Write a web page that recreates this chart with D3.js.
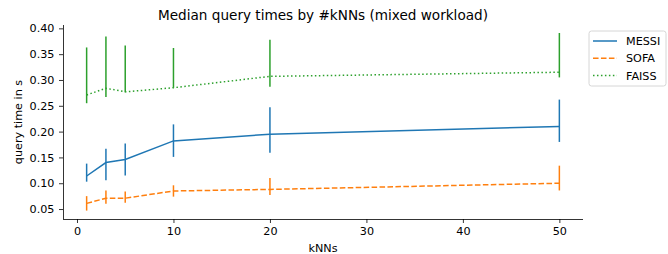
<!DOCTYPE html>
<html lang="en">
<head>
<meta charset="UTF-8">
<title>Median query times</title>
<style>
  body { margin: 0; background: #fff; }
  text { font-family: "DejaVu Sans", sans-serif; fill: #000; }
  .tick text { font-size: 11.2px; }
</style>
</head>
<body>
<div id="chart"></div>
<script src="https://cdn.jsdelivr.net/npm/d3@7"></script>
<script>
let knns = [1, 3, 5, 10, 20, 50]
let seriesNames = ['MESSI', 'SOFA', 'FAISS']
let messi = [0.114, 0.140, 0.146, 0.182, 0.195, 0.210]
let messiLow = [0.103, 0.106, 0.115, 0.151, 0.159, 0.180]
let messiHigh = [0.138, 0.167, 0.177, 0.214, 0.247, 0.262]
let sofa = [0.061, 0.071, 0.071, 0.085, 0.088, 0.100]
let sofaLow = [0.047, 0.060, 0.062, 0.074, 0.077, 0.086]
let sofaHigh = [0.075, 0.086, 0.084, 0.096, 0.110, 0.134]
let faiss = [0.271, 0.284, 0.277, 0.285, 0.307, 0.315]
let faissLow = [0.255, 0.267, 0.276, 0.285, 0.287, 0.305]
let faissHigh = [0.363, 0.384, 0.367, 0.362, 0.378, 0.391]
let xTicks = [0, 10, 20, 30, 40, 50]
let yTicks = [0.05, 0.10, 0.15, 0.20, 0.25, 0.30, 0.35, 0.40]

let width = 668
let height = 254
let padLeft = 63, padRight = 583, padTop = 25, padBottom = 219

let colors = ['#1f77b4', '#ff7f0e', '#2ca02c']
let dashes = [null, '5.55,2.4', '1.5,2.475']
let series = [
  { name: seriesNames[0], mid: messi, lo: messiLow, hi: messiHigh },
  { name: seriesNames[1], mid: sofa, lo: sofaLow, hi: sofaHigh },
  { name: seriesNames[2], mid: faiss, lo: faissLow, hi: faissHigh }
]

let svg = d3.select('#chart').append('svg').attr('width', width).attr('height', height)

let x = d3.scaleLinear().domain([-1.45, 52.45]).range([padLeft, padRight])
let y = d3.scaleLinear().domain([0.0307, 0.4065]).range([padBottom, padTop])

// axes
let xAxis = d3.axisBottom(x).tickValues(xTicks).tickSize(4).tickPadding(4).tickFormat(d3.format('d'))
let gx = svg.append('g').attr('transform', 'translate(0,' + padBottom + ')').call(xAxis)
let yAxis = d3.axisLeft(y).tickValues(yTicks).tickSize(4).tickPadding(4.5).tickFormat(d3.format('.2f'))
let gy = svg.append('g').attr('transform', 'translate(' + padLeft + ',0)').call(yAxis)
;[gx, gy].forEach(g => {
  g.select('.domain').attr('stroke', '#000').attr('stroke-width', 0.8)
  g.selectAll('.tick line').attr('stroke', '#000').attr('stroke-width', 0.8)
  g.selectAll('.tick text').attr('fill', '#000')
  g.attr('font-family', null).attr('font-size', null)
})
gy.select('.domain').attr('d', 'M0.5,' + padBottom + 'V' + padTop)
gx.select('.domain').attr('d', 'M' + padLeft + ',0.5H' + padRight)

// lines and error bars
series.forEach((s, i) => {
  let line = d3.line().x((d, j) => x(knns[j])).y(d => y(d))
  svg.append('path')
    .datum(s.mid)
    .attr('fill', 'none')
    .attr('stroke', colors[i])
    .attr('stroke-width', 1.5)
    .attr('stroke-dasharray', dashes[i])
    .attr('d', line)
  svg.append('g').selectAll('line')
    .data(knns)
    .join('line')
    .attr('x1', d => x(d))
    .attr('x2', d => x(d))
    .attr('y1', (d, j) => y(s.lo[j]))
    .attr('y2', (d, j) => y(s.hi[j]))
    .attr('stroke', colors[i])
    .attr('stroke-width', 1.5)
})

// title and axis titles
svg.append('text').text('Median query times by #kNNs (mixed workload)')
  .attr('x', (padLeft + padRight) / 2).attr('y', 19.5).attr('text-anchor', 'middle').attr('font-size', 13.6)
svg.append('text').text('kNNs')
  .attr('x', (padLeft + padRight) / 2).attr('y', 251.5).attr('text-anchor', 'middle').attr('font-size', 11.2)
svg.append('text').text('query time in s')
  .attr('transform', 'translate(22,' + ((padTop + padBottom) / 2) + ') rotate(-90)')
  .attr('text-anchor', 'middle').attr('font-size', 11.2)

// legend
let legend = svg.append('g').attr('transform', 'translate(589,31)')
legend.append('rect').attr('width', 77).attr('height', 55).attr('rx', 2.5)
  .attr('fill', '#fff').attr('fill-opacity', 0.8).attr('stroke', '#ccc').attr('stroke-width', 0.8)
series.forEach((s, i) => {
  let yy = 10 + i * 17.3
  legend.append('line').attr('x1', 4).attr('x2', 28).attr('y1', yy).attr('y2', yy)
    .attr('stroke', colors[i]).attr('stroke-width', 1.5).attr('stroke-dasharray', dashes[i])
  legend.append('text').text(s.name).attr('x', 37).attr('y', yy + 4).attr('font-size', 11.2)
})
</script>
</body>
</html>
